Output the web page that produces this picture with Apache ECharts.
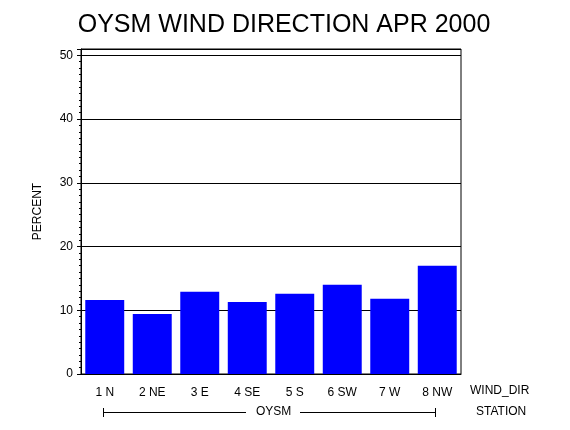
<!DOCTYPE html>
<html>
<head>
<meta charset="utf-8">
<script src="https://cdn.jsdelivr.net/npm/echarts@6/dist/echarts.min.js"></script>
<style>html,body{margin:0;padding:0;background:#fff}#c{width:570px;height:430px}</style>
</head>
<body>
<div id="c"></div>
<script>
var categories = ["1 N", "2 NE", "3 E", "4 SE", "5 S", "6 SW", "7 W", "8 NW"];
var percent = [11.6, 9.4, 12.9, 11.3, 12.6, 14.0, 11.8, 17.0];
var yTicks = [0, 10, 20, 30, 40, 50];

var FONT = "Liberation Sans";
var chart = echarts.init(document.getElementById('c'), null, {renderer: 'canvas'});
chart.setOption({
  animation: false,
  backgroundColor: '#fff',
  title: {
    text: 'OYSM WIND DIRECTION APR 2000',
    left: 279, top: 8, textAlign: 'center',
    textStyle: {fontFamily: FONT, fontSize: 25, fontWeight: 'normal', color: '#000'}
  },
  grid: {left: 81, right: 109, top: 49, bottom: 56, show: true, borderColor: '#000', borderWidth: 1, containLabel: false},
  xAxis: {
    type: 'category', data: categories,
    axisLine: {show: true, lineStyle: {color: '#000'}},
    axisTick: {show: false},
    axisLabel: {color: '#000', fontFamily: FONT, fontSize: 12, margin: 13}
  },
  yAxis: {
    type: 'value', min: 0, max: 51, interval: 10,
    name: 'PERCENT', nameLocation: 'middle', nameGap: 37, nameRotate: 90,
    nameTextStyle: {fontFamily: FONT, fontSize: 12, color: '#000'},
    axisLine: {show: true, lineStyle: {color: '#000'}},
    axisTick: {show: true, length: 4, lineStyle: {color: '#000'}},
    minorTick: {show: true, splitNumber: 10, length: 2, lineStyle: {color: '#000'}},
    splitLine: {show: true, lineStyle: {color: '#000', width: 1}},
    axisLabel: {color: '#000', fontFamily: FONT, fontSize: 12, margin: 8,
      formatter: function (v) { return yTicks.indexOf(v) >= 0 ? String(v) : ''; }}
  },
  series: [{
    type: 'bar', data: percent, barCategoryGap: '18%',
    itemStyle: {color: '#0000FF'}
  }],
  graphic: [
    {type: 'text', left: 470, top: 385, style: {text: 'WIND_DIR', font: '12px ' + FONT, fill: '#000'}},
    {type: 'text', left: 476, top: 406, style: {text: 'STATION', font: '12px ' + FONT, fill: '#000'}},
    {type: 'text', left: 256, top: 406, style: {text: 'OYSM', font: '12px ' + FONT, fill: '#000'}},
    {type: 'line', shape: {x1: 103, y1: 412.5, x2: 246, y2: 412.5}, style: {stroke: '#000', lineWidth: 1}},
    {type: 'line', shape: {x1: 300, y1: 412.5, x2: 436, y2: 412.5}, style: {stroke: '#000', lineWidth: 1}},
    {type: 'line', shape: {x1: 103.5, y1: 408, x2: 103.5, y2: 417}, style: {stroke: '#000', lineWidth: 1}},
    {type: 'line', shape: {x1: 435.5, y1: 408, x2: 435.5, y2: 417}, style: {stroke: '#000', lineWidth: 1}}
  ]
});
</script>
</body>
</html>
